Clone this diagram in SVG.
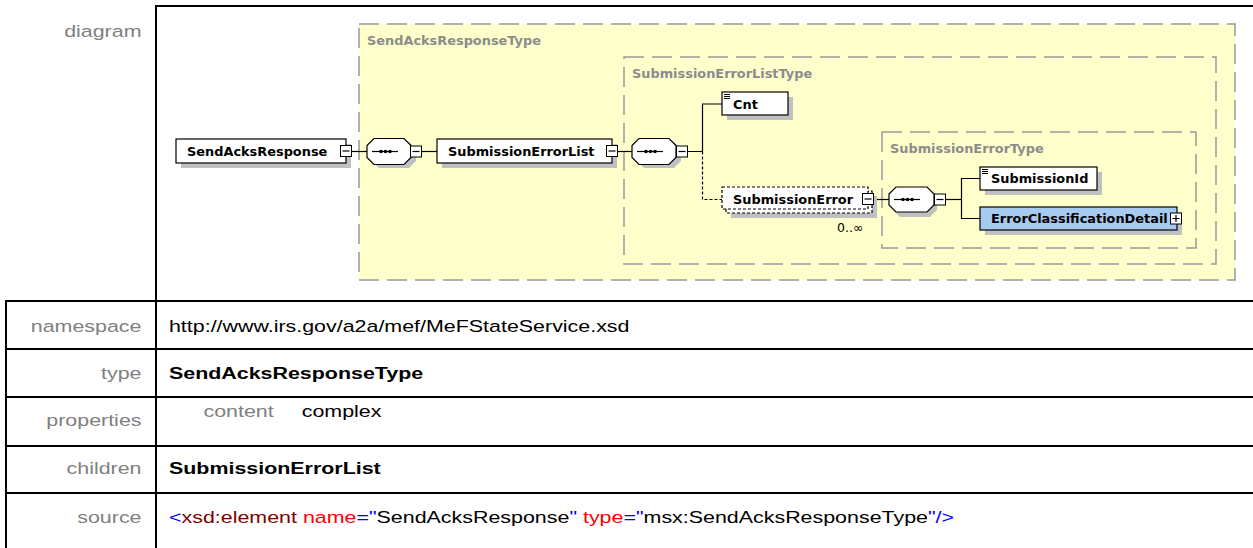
<svg xmlns="http://www.w3.org/2000/svg" width="1253" height="548" viewBox="0 0 1253 548">
<style>
.tl{stroke:#000;stroke-width:2;fill:none}
.lbl{font-family:"Liberation Sans",Arial,sans-serif;font-size:17px;fill:#808080}
.val{font-family:"Liberation Sans",Arial,sans-serif;font-size:17px;fill:#000}
.b{font-weight:bold}
.tbox{fill:#FFFFCC;stroke:#999;stroke-width:1.5;stroke-dasharray:20 8}
.tname{font-family:"DejaVu Sans",Verdana,sans-serif;font-size:12.9px;font-weight:bold;fill:#8C8C8C}
.node{fill:#fff;stroke:#000;stroke-width:1.2}
.shadow{fill:#C0C0C0;stroke:none}
.ntxt{font-family:"DejaVu Sans",Verdana,sans-serif;font-size:12.9px;font-weight:bold;fill:#000}
.btn{fill:#fff;stroke:#000;stroke-width:1}
.con{stroke:#000;stroke-width:1.2;fill:none}
.dash{stroke:#000;stroke-width:1.2;fill:none;stroke-dasharray:3 2}
.opt{fill:#fff;stroke:#000;stroke-width:1.2;stroke-dasharray:3 2}
</style>
<rect width="1253" height="548" fill="#fff"/>
<g id="table">
<line class="tl" x1="155" y1="6" x2="1253" y2="6"/>
<line class="tl" x1="6" y1="301" x2="1253" y2="301"/>
<line class="tl" x1="6" y1="349" x2="1253" y2="349"/>
<line class="tl" x1="6" y1="397" x2="1253" y2="397"/>
<line class="tl" x1="6" y1="446" x2="1253" y2="446"/>
<line class="tl" x1="6" y1="493" x2="1253" y2="493"/>
<line class="tl" x1="6" y1="300" x2="6" y2="548"/>
<line class="tl" x1="156" y1="6" x2="156" y2="548"/>
<g transform="scale(1.26 1)">
<text class="lbl" x="112.3" y="37" text-anchor="end">diagram</text>
<text class="lbl" x="112.3" y="332" text-anchor="end">namespace</text>
<text class="lbl" x="112.3" y="379" text-anchor="end">type</text>
<text class="lbl" x="112.3" y="426" text-anchor="end">properties</text>
<text class="lbl" x="112.3" y="474" text-anchor="end">children</text>
<text class="lbl" x="112.3" y="523" text-anchor="end">source</text>
<text class="val" x="134.1" y="332">http://www.irs.gov/a2a/mef/MeFStateService.xsd</text>
<text class="val b" x="134.1" y="379">SendAcksResponseType</text>
<text class="lbl" x="161.5" y="417">content</text>
<text class="val" x="239.5" y="417">complex</text>
<text class="val b" x="134.1" y="474">SubmissionErrorList</text>
<text class="val" x="134.1" y="523"><tspan fill="#0000FF">&lt;</tspan><tspan fill="#800000">xsd:element</tspan> <tspan fill="#FF0000">name</tspan><tspan fill="#0000FF">="</tspan><tspan>SendAcksResponse</tspan><tspan fill="#0000FF">"</tspan> <tspan fill="#FF0000">type</tspan><tspan fill="#0000FF">="</tspan><tspan>msx:SendAcksResponseType</tspan><tspan fill="#0000FF">"/&gt;</tspan></text>
</g>
</g>
<g id="type-SendAcksResponseType">
<rect class="tbox" x="359" y="24" width="876" height="256"/>
<text class="tname" x="367" y="44.5">SendAcksResponseType</text>
</g>
<g id="type-SubmissionErrorListType">
<rect class="tbox" x="624" y="57" width="592" height="207"/>
<text class="tname" x="632" y="78">SubmissionErrorListType</text>
</g>
<g id="type-SubmissionErrorType">
<rect class="tbox" x="882" y="132" width="314" height="116"/>
<text class="tname" x="890" y="153">SubmissionErrorType</text>
</g>
<g id="connectors">
<line class="con" x1="352" y1="151.5" x2="367" y2="151.5"/>
<line class="con" x1="422" y1="151.5" x2="437" y2="151.5"/>
<line class="con" x1="618" y1="151.5" x2="632" y2="151.5"/>
<polyline class="con" points="688,151.5 702.5,151.5 702.5,104 722,104"/>
<polyline class="dash" points="702.5,151.5 702.5,199.5 722,199.5"/>
<line class="con" x1="873" y1="199.5" x2="889" y2="199.5"/>
<polyline class="con" points="946,199.5 961.5,199.5"/>
<polyline class="con" points="980,178.5 961.5,178.5 961.5,218.5 980,218.5"/>
</g>
<g id="SendAcksResponse">
<rect class="shadow" x="181" y="144" width="170" height="24"/>
<rect class="node" x="176" y="139" width="170" height="24"/>
<text class="ntxt" x="187" y="156">SendAcksResponse</text>
<rect class="btn" x="340.5" y="145.5" width="11" height="11"/>
<line class="con" x1="342.5" y1="151" x2="349.5" y2="151"/>
</g>
<g id="seq1">
<polygon class="shadow" points="379,142 409,142 416,149 416,161 409,168 379,168 372,161 372,149"/>
<polygon class="node" points="374,138.5 404,138.5 411,145.5 411,157.5 404,164.5 374,164.5 367,157.5 367,145.5"/>
<line class="con" x1="372" y1="151.5" x2="398" y2="151.5"/>
<circle cx="381" cy="151.5" r="1.8"/><circle cx="385.5" cy="151.5" r="1.8"/><circle cx="390" cy="151.5" r="1.8"/>
<rect class="btn" x="410.5" y="146" width="11" height="11"/>
<line class="con" x1="412.5" y1="151.5" x2="419.5" y2="151.5"/>
</g>
<g id="SubmissionErrorList">
<rect class="shadow" x="442" y="144" width="175" height="24"/>
<rect class="node" x="437" y="139" width="175" height="24"/>
<text class="ntxt" x="448" y="156">SubmissionErrorList</text>
<rect class="btn" x="606.5" y="145.5" width="11" height="11"/>
<line class="con" x1="608.5" y1="151" x2="615.5" y2="151"/>
</g>
<g id="seq2">
<polygon class="shadow" points="644,142 674,142 681,149 681,161 674,168 644,168 637,161 637,149"/>
<polygon class="node" points="639,138.5 669,138.5 676,145.5 676,157.5 669,164.5 639,164.5 632,157.5 632,145.5"/>
<line class="con" x1="637" y1="151.5" x2="663" y2="151.5"/>
<circle cx="646" cy="151.5" r="1.8"/><circle cx="650.5" cy="151.5" r="1.8"/><circle cx="655" cy="151.5" r="1.8"/>
<rect class="btn" x="676.5" y="146" width="11" height="11"/>
<line class="con" x1="678.5" y1="151.5" x2="685.5" y2="151.5"/>
</g>
<g id="Cnt">
<rect class="shadow" x="727" y="97" width="66" height="23"/>
<rect class="node" x="722" y="92" width="66" height="23"/>
<path class="con" d="M724 94.5h6M724 96.5h6M724 98.5h6" stroke-width="1"/>
<text class="ntxt" x="733" y="109">Cnt</text>
</g>
<g id="SubmissionError">
<rect class="shadow" x="731" y="196" width="146" height="22"/>
<rect class="opt" x="726" y="191" width="146" height="22"/>
<rect class="opt" x="722" y="187" width="146" height="22"/>
<text class="ntxt" x="733" y="204">SubmissionError</text>
<rect class="btn" x="862.5" y="193.5" width="11" height="11"/>
<line class="con" x1="864.5" y1="199" x2="871.5" y2="199"/>
<text font-family="DejaVu Sans, Verdana, sans-serif" font-size="12.5" x="837" y="232">0..∞</text>
</g>
<g id="seq3">
<polygon class="shadow" points="900,191 930,191 937,198 937,210 930,217 900,217 893,210 893,198"/>
<polygon class="node" points="896,187 927,187 934,194 934,205 927,212 896,212 889,205 889,194"/>
<line class="con" x1="894" y1="199.5" x2="920" y2="199.5"/>
<circle cx="903" cy="199.5" r="1.8"/><circle cx="907.5" cy="199.5" r="1.8"/><circle cx="912" cy="199.5" r="1.8"/>
<rect class="btn" x="934.5" y="194" width="11" height="11"/>
<line class="con" x1="936.5" y1="199.5" x2="943.5" y2="199.5"/>
</g>
<g id="SubmissionId">
<rect class="shadow" x="985" y="172" width="117" height="23"/>
<rect class="node" x="980" y="167" width="117" height="23"/>
<path class="con" d="M982 169.5h6M982 171.5h6M982 173.5h6" stroke-width="1"/>
<text class="ntxt" x="991" y="183">SubmissionId</text>
</g>
<g id="ErrorClassificationDetail">
<rect class="shadow" x="985" y="212" width="197" height="23"/>
<rect class="node" x="980" y="207" width="197" height="23" style="fill:#A6CAF0"/>
<text class="ntxt" x="991" y="223">ErrorClassificationDetail</text>
<rect class="btn" x="1170.5" y="213" width="11" height="11"/>
<path class="con" d="M1172.5 218.5h7M1176 215v7" stroke-width="1"/>
</g>
</svg>
